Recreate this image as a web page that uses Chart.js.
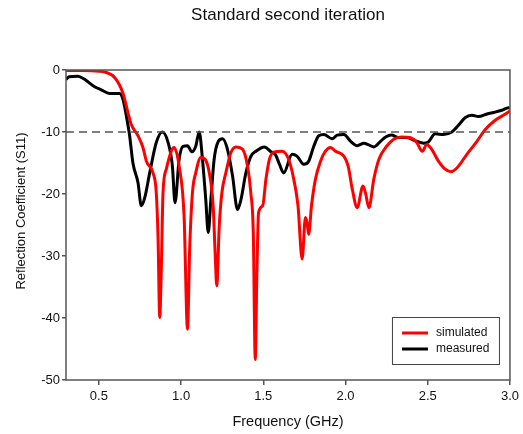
<!DOCTYPE html>
<html>
<head>
<meta charset="utf-8">
<script src="https://cdn.jsdelivr.net/npm/chart.js@4/dist/chart.umd.min.js"></script>
<style>
  html, body { margin: 0; padding: 0; background: #fff; }
  canvas { display: block; }
</style>
</head>
<body>
<canvas id="c" width="523" height="434"></canvas>
<script>
const chartTitle = "Standard second iteration";
const xTitle = "Frequency (GHz)";
const yTitle = "Reflection Coefficient (S11)";
const seriesNames = ["simulated", "measured"];
const xTickValues = [0.5, 1.0, 1.5, 2.0, 2.5, 3.0];
const yTickValues = [0, -10, -20, -30, -40, -50];
const thresholdLevel = -10;

const simFreq = [0.30,0.40,0.50,0.545,0.596,0.646,0.677,0.697,0.738,0.768,0.789,0.829,0.849,0.860,0.870,0.880,0.890,0.910,0.940,0.957,0.988,1.018,1.039,1.052,1.069,1.089,1.120,1.146,1.175,1.195,1.207,1.217,1.232,1.248,1.272,1.303,1.333,1.374,1.404,1.424,1.439,1.451,1.461,1.471,1.496,1.516,1.537,1.567,1.614,1.654,1.685,1.711,1.736,1.756,1.766,1.776,1.793,1.817,1.848,1.878,1.909,1.939,1.990,2.016,2.041,2.071,2.106,2.122,2.142,2.172,2.203,2.250,2.291,2.341,2.392,2.433,2.467,2.494,2.524,2.565,2.606,2.640,2.677,2.738,2.799,2.850,2.910,2.972,3.000];
const simS11 = [-0.1,-0.1,-0.2,-0.4,-1.2,-3.7,-6.9,-8.8,-10.6,-12.5,-14.7,-16.6,-19.8,-27.3,-39.9,-31.6,-19.8,-16.0,-13.1,-12.5,-15.5,-23.5,-41.8,-28.9,-19.8,-16.6,-14.1,-14.4,-17.1,-21.9,-29.5,-34.8,-25.2,-19.8,-16.6,-13.3,-12.4,-12.8,-15.5,-19.8,-26.2,-46.7,-32.7,-23.0,-21.9,-17.6,-14.4,-13.2,-13.1,-14.4,-17.6,-21.9,-30.5,-23.8,-24.6,-26.5,-21.9,-17.6,-14.7,-13.1,-12.5,-13.1,-13.9,-15.5,-19.2,-22.2,-18.7,-19.9,-22.2,-17.6,-14.4,-12.3,-11.2,-10.8,-10.9,-11.7,-13.1,-12.0,-12.8,-14.7,-16.0,-16.4,-15.8,-13.6,-11.5,-9.6,-8.1,-7.1,-6.6];

const measFreq = [0.30,0.32,0.372,0.413,0.474,0.514,0.565,0.626,0.646,0.667,0.687,0.707,0.738,0.758,0.779,0.809,0.849,0.886,0.921,0.947,0.963,0.988,1.012,1.039,1.065,1.089,1.110,1.130,1.150,1.165,1.181,1.201,1.227,1.252,1.282,1.313,1.343,1.364,1.394,1.425,1.455,1.506,1.547,1.573,1.598,1.624,1.675,1.705,1.746,1.776,1.807,1.837,1.868,1.919,1.949,1.990,2.031,2.071,2.112,2.173,2.213,2.244,2.280,2.321,2.372,2.413,2.474,2.504,2.545,2.595,2.646,2.687,2.727,2.768,2.809,2.860,2.910,2.951,2.992,3.000];
const measS11 = [-1.5,-1.1,-1.0,-1.5,-2.7,-3.2,-3.8,-3.8,-4.7,-7.4,-10.6,-15.0,-18.2,-21.9,-20.6,-16.6,-11.7,-10.0,-11.7,-15.5,-21.4,-14.4,-12.3,-12.2,-13.2,-12.3,-10.0,-14.4,-20.9,-26.2,-20.9,-14.4,-11.5,-11.1,-12.8,-17.1,-22.5,-20.9,-16.6,-13.9,-13.1,-12.4,-13.2,-13.6,-15.2,-16.6,-13.6,-13.9,-15.2,-14.7,-12.3,-10.6,-10.4,-11.1,-10.5,-10.4,-11.5,-12.2,-11.8,-12.4,-11.5,-10.8,-10.5,-10.9,-10.9,-11.3,-11.8,-11.6,-10.3,-10.4,-10.0,-8.9,-7.7,-7.3,-7.5,-7.1,-6.8,-6.5,-6.1,-6.2];

const toPoints = (xs, ys) => xs.map((x, i) => ({ x: x, y: ys[i] }));

const FONT = "'Liberation Sans', Arial, sans-serif";

const framePlugin = {
  id: 'frame',
  afterDatasetsDraw(chart) {
    const { ctx, chartArea: a } = chart;
    ctx.save();
    ctx.strokeStyle = '#555';
    ctx.lineWidth = 1.5;
    ctx.strokeRect(a.left, a.top, a.right - a.left, a.bottom - a.top);
    ctx.restore();
  },
  afterDraw(chart) {
    const { ctx, chartArea: a } = chart;
    // y-axis title
    ctx.save();
    ctx.translate(21, 211);
    ctx.rotate(-Math.PI / 2);
    ctx.font = "13px " + FONT;
    ctx.fillStyle = '#111';
    ctx.textAlign = 'center';
    ctx.textBaseline = 'middle';
    ctx.fillText(yTitle, 0, 0);
    ctx.restore();
    // legend
    const items = chart.data.datasets.filter(d => d.inLegend);
    const bx = a.right - 118, by = a.bottom - 63, bw = 107, bh = 47;
    ctx.save();
    ctx.fillStyle = '#fff';
    ctx.fillRect(bx, by, bw, bh);
    ctx.strokeStyle = '#444';
    ctx.lineWidth = 1;
    ctx.strokeRect(bx + 0.5, by + 0.5, bw, bh);
    ctx.font = "12px " + FONT;
    ctx.textBaseline = 'middle';
    items.forEach((d, i) => {
      const y = by + 16 + i * 16;
      ctx.strokeStyle = d.borderColor;
      ctx.lineWidth = 3;
      ctx.beginPath();
      ctx.moveTo(bx + 10, y);
      ctx.lineTo(bx + 36, y);
      ctx.stroke();
      ctx.fillStyle = '#111';
      ctx.fillText(d.label, bx + 44, y);
    });
    ctx.restore();
  }
};

new Chart(document.getElementById('c'), {
  type: 'line',
  data: {
    datasets: [
      {
        label: 'threshold',
        data: [{ x: 0.3, y: thresholdLevel }, { x: 3.0, y: thresholdLevel }],
        borderColor: '#555',
        borderWidth: 1.5,
        borderDash: [8, 5],
        pointRadius: 0,
        inLegend: false
      },
      {
        label: seriesNames[0],
        data: toPoints(simFreq, simS11),
        borderColor: '#ff0000',
        borderWidth: 3,
        pointRadius: 0,
        cubicInterpolationMode: 'monotone',
        inLegend: true
      },
      {
        label: seriesNames[1],
        data: toPoints(measFreq, measS11),
        borderColor: '#000000',
        borderWidth: 3,
        pointRadius: 0,
        cubicInterpolationMode: 'monotone',
        inLegend: true
      }
    ]
  },
  options: {
    responsive: false,
    animation: false,
    layout: { padding: { left: 0, right: 12, top: 0, bottom: 0 } },
    plugins: {
      legend: { display: false },
      tooltip: { enabled: false },
      title: {
        display: true,
        fullSize: false,
        text: chartTitle,
        color: '#111',
        font: { family: FONT, size: 17, weight: 'normal' },
        padding: { top: 5.5, bottom: 44.1 }
      }
    },
    scales: {
      x: {
        type: 'linear',
        min: 0.3,
        max: 3.0,
        afterFit: s => { s.height = 54; },
        afterBuildTicks: s => { s.ticks = xTickValues.map(v => ({ value: v })); },
        grid: { drawOnChartArea: false, tickLength: 5, color: '#555', lineWidth: 1.5 },
        border: { display: false },
        ticks: {
          color: '#111',
          font: { family: FONT, size: 13 },
          padding: 4,
          maxRotation: 0,
          callback: v => Number(v).toFixed(1)
        },
        title: {
          display: true,
          text: xTitle,
          color: '#111',
          font: { family: FONT, size: 14.5 },
          padding: { top: 0, bottom: 3.5 }
        }
      },
      y: {
        type: 'linear',
        min: -50,
        max: 0,
        afterFit: s => { s.width = 66; },
        afterBuildTicks: s => { s.ticks = yTickValues.map(v => ({ value: v })); },
        grid: { drawOnChartArea: false, tickLength: 4, color: '#555', lineWidth: 1.5 },
        border: { display: false },
        ticks: {
          color: '#111',
          font: { family: FONT, size: 13 },
          padding: 2,
          callback: v => String(v)
        },
        title: { display: false }
      }
    }
  },
  plugins: [framePlugin]
});
</script>
</body>
</html>
